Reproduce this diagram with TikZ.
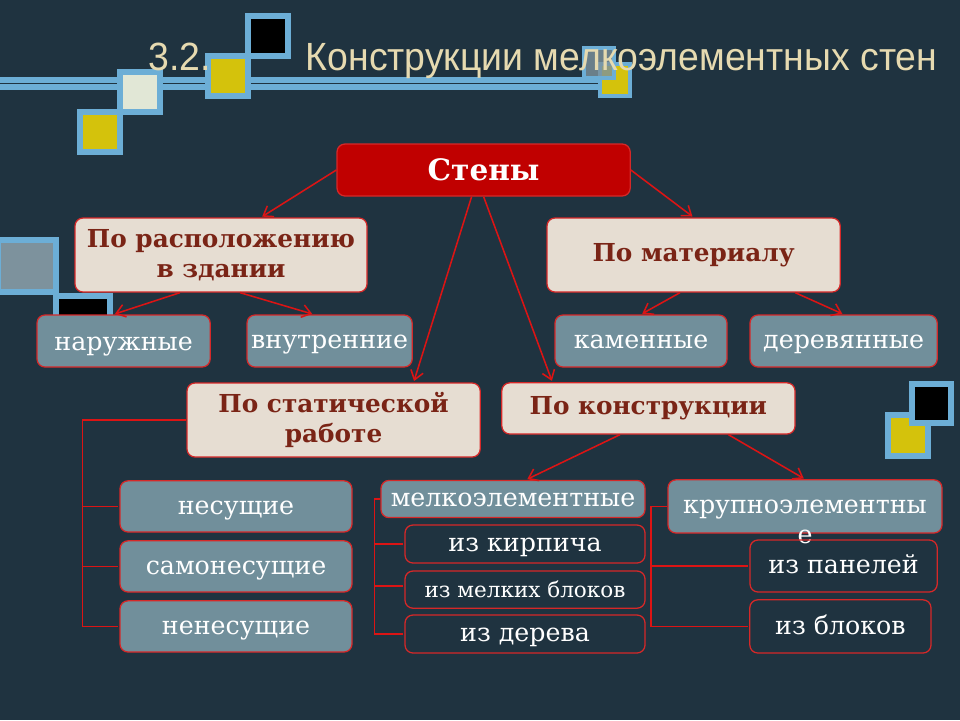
\documentclass[tikz,border=0pt]{standalone}
\usepackage{fontspec}
\setmainfont{DejaVu Serif}
\newfontfamily\titlefont[FakeStretch=0.95]{Liberation Sans}
\usetikzlibrary{arrows.meta}

\definecolor{slide}{RGB}{31,51,64}
\definecolor{wallred}{RGB}{192,0,0}
\definecolor{boxred}{RGB}{214,40,40}
\definecolor{linkred}{RGB}{220,20,20}
\definecolor{beige}{RGB}{230,221,210}
\definecolor{brick}{RGB}{122,36,22}
\definecolor{slate}{RGB}{113,143,155}
\definecolor{tileblue}{RGB}{108,174,214}
\definecolor{tileyellow}{RGB}{212,194,12}
\definecolor{tilecream}{RGB}{225,231,214}
\definecolor{tilegray}{RGB}{125,146,157}
\definecolor{titlecol}{RGB}{230,218,176}

\tikzset{
  box/.style={rounded corners=0.2cm, line width=0.9pt, draw=boxred, align=center, inner sep=1pt},
  top/.style={box, fill=wallred, text=white, font=\bfseries\fontsize{21}{25}\selectfont},
  head/.style={box, fill=beige, text=brick, font=\bfseries\fontsize{17.6}{21}\selectfont},
  kind/.style={box, fill=slate, text=white, text height=2.1ex, text depth=0pt, font=\fontsize{18}{21}\selectfont},
  sub/.style={box, text=white, text height=2.1ex, text depth=0pt, font=\fontsize{18}{21}\selectfont},
  tile/.style={draw=tileblue, line width=0.15cm},
}

\begin{document}
\begin{tikzpicture}[->,>={Straight Barb[length=2.2mm,width=3.2mm]},shorten >=1pt,node distance=2cm,linkred,line width=1.1pt]
  \fill[slide] (0,0) rectangle (24,-18);
  \useasboundingbox (0,0) rectangle (24,-18);

  \fill[tileblue] (0,-1.925) rectangle (15.075,-2.25);
  \draw[-,slide,line width=0.8pt] (0,-2.08) -- (15.075,-2.08);
  \draw[-,tile,fill=tileyellow] (2,-2.8) rectangle (3,-3.8);
  \draw[-,tile,fill=tilecream] (3,-1.8) rectangle (4,-2.8);
  \draw[-,tile,fill=tileyellow] (5.2,-1.4) rectangle (6.2,-2.4);
  \draw[-,tile,fill=black] (6.2,-0.4) rectangle (7.2,-1.4);
  \draw[-,tile,line width=0.12cm,fill=tileyellow] (15,-1.6) rectangle (15.75,-2.4);
  \draw[-,tile,line width=0.12cm,fill=tilegray,fill opacity=0.8] (14.6,-1.2) rectangle (15.35,-1.95);
  \draw[-,tile,fill=tileyellow] (22.2,-10.375) rectangle (23.2,-11.4);
  \draw[-,tile,fill=black] (22.8,-9.6) rectangle (23.775,-10.575);
  \draw[-,tile,fill=tilegray] (-0.05,-6) rectangle (1.4,-7.3);
  \draw[-,tile,fill=black] (1.4,-7.4) rectangle (2.75,-8.75);

  \node [anchor=base west,inner sep=0pt,text=titlecol,font=\titlefont\fontsize{28}{32}\selectfont] (num) at (3.7,-1.75) {3.2.};
  \node [anchor=base west,inner sep=0pt,text=titlecol,font=\titlefont\fontsize{28}{32}\selectfont] (title) at (7.625,-1.75) {Конструкции мелкоэлементных стен};

  \node [top,minimum width=7.33cm,minimum height=1.3cm] (walls) at (12.09,-4.25) {Стены};
  \node [head,minimum width=7.3cm,minimum height=1.85cm,below of=walls,xshift=-6.565cm,yshift=-0.125cm] (loc) {По расположению\\в здании};
  \node [head,minimum width=7.33cm,minimum height=1.85cm,below of=walls,xshift=5.25cm,yshift=-0.125cm] (mat) {По материалу};
  \node [kind,minimum width=4.33cm,minimum height=1.3cm,text height=2.6ex,below of=loc,xshift=-2.435cm,yshift=-0.15cm] (outer) {наружные};
  \node [kind,minimum width=4.13cm,minimum height=1.3cm,right of=outer,xshift=3.15cm] (inner) {внутренние};
  \node [kind,minimum width=4.3cm,minimum height=1.3cm,below of=mat,xshift=-1.315cm,yshift=-0.15cm] (stone) {каменные};
  \node [kind,minimum width=4.68cm,minimum height=1.3cm,right of=stone,xshift=3.065cm] (wood) {деревянные};

  \node [head,minimum width=7.33cm,minimum height=1.85cm,below of=walls,xshift=-3.75cm,yshift=-4.25cm] (stat) {По статической\\работе};
  \node [head,minimum width=7.33cm,minimum height=1.28cm,below of=walls,xshift=4.12cm,yshift=-3.96cm] (constr) {По конструкции};

  \node [kind,minimum width=5.8cm,minimum height=1.28cm,below of=stat,xshift=-2.44cm,yshift=-0.16cm] (bearing) {несущие};
  \node [kind,minimum width=5.8cm,minimum height=1.28cm,below of=bearing,yshift=0.5cm] (selfb) {самонесущие};
  \node [kind,minimum width=5.8cm,minimum height=1.28cm,below of=selfb,yshift=0.5cm] (nonb) {ненесущие};

  \node [kind,minimum width=6.6cm,minimum height=0.93cm,below of=constr,xshift=-3.385cm,yshift=-0.265cm] (small) {мелкоэлементные};
  \node [sub,minimum width=6cm,minimum height=0.95cm,below of=small,xshift=0.3cm,yshift=0.875cm] (brk) {из кирпича};
  \node [sub,minimum width=6cm,minimum height=0.93cm,below of=brk,yshift=0.86cm,font=\fontsize{15.3}{18}\selectfont] (blocks) {из мелких блоков};
  \node [sub,minimum width=6cm,minimum height=0.95cm,below of=blocks,yshift=0.89cm] (timber) {из дерева};

  \node [kind,minimum width=6.85cm,minimum height=1.33cm,text height=,text depth=,below of=constr,xshift=3.915cm,yshift=-0.45cm] (large) {\smash{\raisebox{-0.92cm}{\begin{tabular}[b]{@{}c@{}}крупноэлементны\\е\end{tabular}}}};
  \node [sub,minimum width=4.68cm,minimum height=1.3cm,below of=large,xshift=0.965cm,yshift=0.51cm] (panels) {из панелей};
  \node [sub,minimum width=4.53cm,minimum height=1.33cm,below of=panels,xshift=-0.08cm,yshift=0.49cm] (lblocks) {из блоков};

  \path (walls.west) edge ([xshift=1cm]loc.north)
        (walls.east) edge (mat.north)
        ([xshift=-0.3cm]walls.south) edge ([xshift=2cm]stat.north)
        (walls.south) edge ([xshift=-2.4cm]constr.north)
        ([xshift=-1.025cm]loc.south) edge ([xshift=-0.25cm]outer.north)
        ([xshift=0.475cm]loc.south) edge ([xshift=-0.4cm]inner.north)
        ([xshift=-0.34cm]mat.south) edge (stone.north)
        ([xshift=2.54cm]mat.south) edge (wood.north)
        ([xshift=-0.71cm]constr.south) edge ([xshift=0.325cm]small.north)
        ([xshift=2cm]constr.south) edge (large.north);

  \draw[-] (stat.west) -| ([xshift=-0.925cm]nonb.west) -- (nonb.west);
  \draw[-] ([xshift=-0.925cm]bearing.west) -- (bearing.west);
  \draw[-] ([xshift=-0.925cm]selfb.west) -- (selfb.west);
  \draw[-] (small.west) -| ([xshift=-0.75cm]timber.west) -- (timber.west);
  \draw[-] ([xshift=-0.75cm]brk.west) -- (brk.west);
  \draw[-] ([xshift=-0.75cm,yshift=0.09cm]blocks.west) -- ([yshift=0.09cm]blocks.west);
  \draw[-] (large.west) -| ([xshift=-2.45cm]lblocks.west) -- (lblocks.west);
  \draw[-] ([xshift=-2.45cm]panels.west) -- (panels.west);
\end{tikzpicture}
\end{document}
